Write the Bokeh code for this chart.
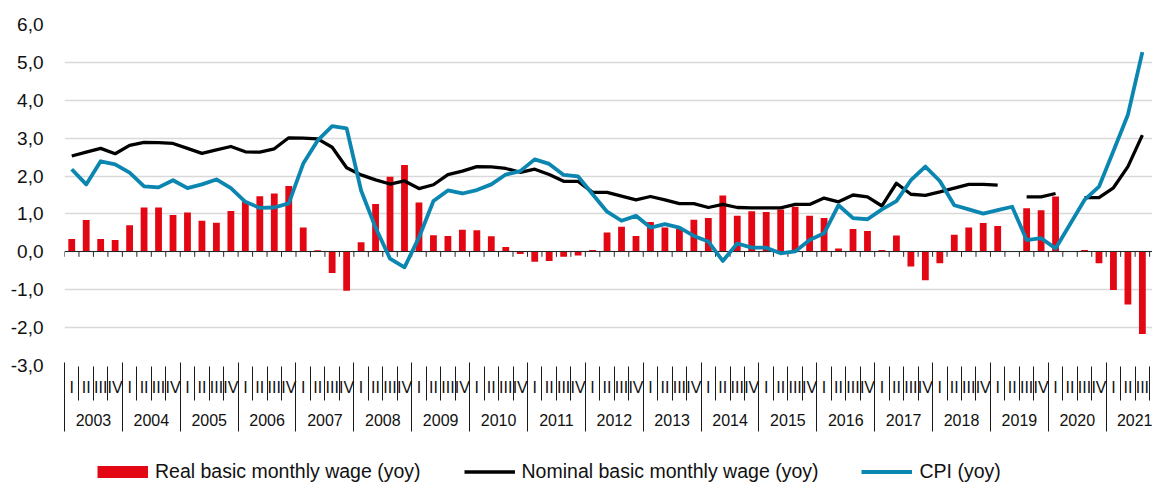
import numpy as np
from bokeh.plotting import figure
from bokeh.layouts import column
from bokeh.models import Range1d, LinearAxis, FixedTicker, Legend, LegendItem
from bokeh.embed import file_html
from bokeh.resources import INLINE

# ---------------- data ----------------
years = list(range(2003, 2022))
quarter_names = ["I", "II", "III", "IV"]
quarters = [(y, q) for y in years for q in quarter_names][:75]   # 2003 I .. 2021 III

real_wage = [0.34, 0.84, 0.34, 0.31, 0.70, 1.17, 1.17, 0.97, 1.04, 0.82,
             0.77, 1.08, 1.33, 1.47, 1.54, 1.74, 0.64, 0.04, -0.56, -1.03,
             0.25, 1.26, 1.98, 2.29, 1.30, 0.44, 0.42, 0.58, 0.57, 0.41,
             0.13, -0.06, -0.26, -0.24, -0.13, -0.10, 0.05, 0.51, 0.66, 0.42,
             0.79, 0.64, 0.60, 0.85, 0.89, 1.49, 0.95, 1.07, 1.05, 1.12,
             1.19, 0.95, 0.89, 0.09, 0.60, 0.55, 0.05, 0.43, -0.39, -0.75,
             -0.30, 0.45, 0.64, 0.76, 0.68, None, 1.15, 1.10, 1.46, None,
             0.05, -0.30, -1.01, -1.39, -2.17]

nominal_wage = [2.53, 2.63, 2.73, 2.59, 2.81, 2.89, 2.88, 2.86, 2.73, 2.60,
                2.69, 2.78, 2.64, 2.63, 2.72, 3.01, 3.00, 2.98, 2.76, 2.22,
                2.03, 1.90, 1.79, 1.87, 1.67, 1.77, 2.04, 2.13, 2.25, 2.24,
                2.20, 2.10, 2.18, 2.04, 1.86, 1.86, 1.57, 1.57, 1.47, 1.37,
                1.46, 1.37, 1.27, 1.27, 1.17, 1.25, 1.17, 1.16, 1.16, 1.16,
                1.25, 1.25, 1.42, 1.32, 1.50, 1.45, 1.21, 1.81, 1.52, 1.49,
                1.58, 1.68, 1.78, 1.78, 1.76, None, 1.45, 1.45, 1.54, None,
                1.43, 1.43, 1.69, 2.25, 3.08]

cpi = [2.18, 1.78, 2.39, 2.31, 2.09, 1.73, 1.70, 1.89, 1.68, 1.78,
       1.91, 1.68, 1.32, 1.16, 1.17, 1.28, 2.33, 2.94, 3.32, 3.26,
       1.62, 0.64, -0.18, -0.41, 0.38, 1.34, 1.62, 1.54, 1.63, 1.78,
       2.04, 2.13, 2.44, 2.32, 2.03, 1.99, 1.52, 1.06, 0.82, 0.95,
       0.64, 0.73, 0.64, 0.42, 0.27, -0.24, 0.22, 0.11, 0.11, -0.04,
       0.01, 0.31, 0.49, 1.23, 0.89, 0.86, 1.12, 1.34, 1.89, 2.25,
       1.87, 1.23, 1.12, 1.01, 1.10, 1.19, 0.31, 0.36, 0.09, 0.73,
       1.37, 1.72, 2.66, 3.62, 5.27]

y_ticks = list(range(-3, 7))

series_names = ["Real basic monthly wage (yoy)",
                "Nominal basic monthly wage (yoy)",
                "CPI (yoy)"]

# ---------------- styles ----------------
RED = "#e30613"
BLACK = "#000000"
BLUE = "#0a86b0"
TXT = "#111111"
SEP = "#1a1a1a"
FONT = "Liberation Sans"

# positions derived from the categories
n = len(quarters)
xc = np.arange(n) + 0.5
bounds = np.arange(n + 1)
year_starts = [4 * i for i in range(len(years))]
year_centers = [s + 2 for s in year_starts]


def to_arr(v):
    return np.array([np.nan if a is None else a for a in v], dtype=float)


# ---------------- main chart ----------------
p = figure(width=1152, height=458,
           x_range=Range1d(0, 75.2), y_range=Range1d(-3, 6),
           output_backend="svg", toolbar_location=None,
           x_axis_location=None,
           min_border_left=64, min_border_right=0,
           min_border_top=24, min_border_bottom=93)
p.outline_line_color = None
p.xgrid.visible = False
p.ygrid.ticker = FixedTicker(ticks=y_ticks)
p.ygrid.grid_line_color = "#d9d9d9"
p.ygrid.grid_line_width = 1.5

yax = p.yaxis[0]
yax.ticker = FixedTicker(ticks=y_ticks)
yax.major_label_overrides = {t: f"{t},0" for t in y_ticks}
yax.axis_line_color = None
yax.major_tick_line_color = None
yax.minor_tick_line_color = None
yax.major_tick_out = 0
yax.major_label_standoff = 21
yax.major_label_text_font = FONT
yax.major_label_text_font_size = "19px"
yax.major_label_text_color = TXT

# row 1: quarter labels
q_axis = LinearAxis(
    ticker=FixedTicker(ticks=list(xc)),
    major_label_overrides={float(x): q for x, (_, q) in zip(xc, quarters)},
    axis_line_color=None,
    major_tick_line_color=None, major_tick_out=0, major_tick_in=0,
    minor_tick_line_color=None, minor_tick_out=0, minor_tick_in=0,
    major_label_standoff=13,
    major_label_text_font=FONT, major_label_text_font_size="16px",
    major_label_text_color=TXT)
p.add_layout(q_axis, "below")

# row 2: year labels, its minor ticks reach up as quarter separators
yr_axis = LinearAxis(
    ticker=FixedTicker(ticks=year_centers, minor_ticks=list(bounds)),
    major_label_overrides={c: str(y) for c, y in zip(year_centers, years)},
    axis_line_color=None,
    major_tick_line_color=None, major_tick_out=0, major_tick_in=0,
    minor_tick_line_color=SEP, minor_tick_line_width=1,
    minor_tick_in=32, minor_tick_out=2,
    major_label_standoff=13,
    major_label_text_font=FONT, major_label_text_font_size="16px",
    major_label_text_color=TXT)
p.add_layout(yr_axis, "below")

# row 3: year separators reaching up through both rows (labels hidden)
sep_axis = LinearAxis(
    ticker=FixedTicker(ticks=year_centers, minor_ticks=year_starts),
    major_label_overrides={c: "" for c in year_centers},
    major_label_text_color=None, major_label_text_font_size="1px",
    axis_line_color=None,
    major_tick_line_color=None, major_tick_out=0, major_tick_in=0,
    minor_tick_line_color=SEP, minor_tick_line_width=1,
    minor_tick_in=66, minor_tick_out=3,
    major_label_standoff=0)
p.add_layout(sep_axis, "below")

# bars
p.vbar(x=xc, top=to_arr(real_wage), width=0.47, fill_color=RED, line_color=None)

# zero axis with small ticks
p.hspan(y=[0], line_color="#262626", line_width=1.2)
p.ray(x=bounds, y=0, length=5, length_units="screen", angle=-np.pi / 2,
      line_color="#262626", line_width=1)

# lines
p.line(xc, to_arr(nominal_wage), line_color=BLACK, line_width=3.3, line_join="round")
p.line(xc, to_arr(cpi), line_color=BLUE, line_width=3.8, line_join="round")

# ---------------- legend strip ----------------
lg = figure(width=1152, height=26,
            x_range=Range1d(0, 1), y_range=Range1d(0, 1),
            output_backend="svg", toolbar_location=None,
            x_axis_location=None, y_axis_location=None,
            min_border=0)
lg.outline_line_color = None
lg.grid.visible = False

nan_pt = np.array([np.nan])
k_real = lg.line(x=nan_pt, y=nan_pt, line_color=RED, line_width=12)
k_nom = lg.line(x=nan_pt, y=nan_pt, line_color=BLACK, line_width=3.3)
k_cpi = lg.line(x=nan_pt, y=nan_pt, line_color=BLUE, line_width=3.8)

legend = Legend(
    items=[LegendItem(label=series_names[0], renderers=[k_real]),
           LegendItem(label=series_names[1], renderers=[k_nom]),
           LegendItem(label=series_names[2], renderers=[k_cpi])],
    orientation="horizontal", location=(33, 1),
    spacing=43, glyph_width=51, glyph_height=23, label_height=23,
    label_standoff=7, padding=0, margin=0,
    border_line_color=None, background_fill_alpha=0,
    label_text_font=FONT, label_text_font_size="19.5px",
    label_text_color=TXT)
lg.add_layout(legend, "center")

open("out.html", "w").write(file_html(column(p, lg), INLINE))
